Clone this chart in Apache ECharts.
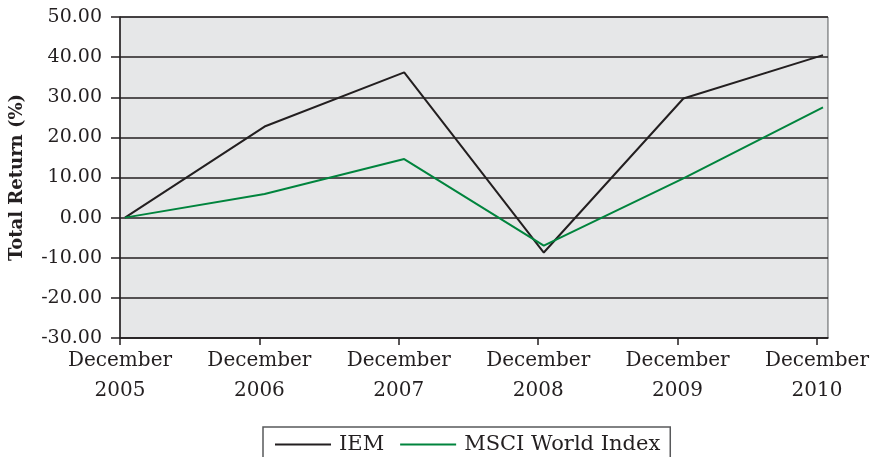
<!DOCTYPE html>
<html>
<head>
<meta charset="utf-8">
<script src="https://cdn.jsdelivr.net/npm/echarts@6/dist/echarts.min.js"></script>
<style>
html, body { margin: 0; padding: 0; background: #fff; }
#ct1 { width: 872px; height: 457px; }
</style>
</head>
<body>
<div id="ct1"></div>
<script>
var years = ['December\n2005', 'December\n2006', 'December\n2007', 'December\n2008', 'December\n2009', 'December\n2010'];
var iem = [0, 22.7, 36.2, -8.7, 29.7, 40.5];
var msci = [0, 5.9, 14.6, -7.0, 9.8, 27.5];
var yTicks = [-30, -20, -10, 0, 10, 20, 30, 40, 50];

var font = 'DejaVu Serif';

function pairs(arr) {
	var out = [];
	for (var i = 0; i < arr.length; i++) {
		out.push([i, arr[i]]);
	}
	return out;
}

var option1 = {
	animation: false,
	backgroundColor: '#fff',
	grid: {
		left: 120,
		right: 41,
		top: 17,
		bottom: 119,
		show: true,
		backgroundColor: '#e6e7e8',
		borderColor: '#58595b',
		borderWidth: 1
	},
	legend: {
		left: 263,
		top: 427,
		padding: [7, 10, 30, 12],
		borderColor: '#58595b',
		borderWidth: 1.5,
		itemWidth: 56,
		itemHeight: 10,
		itemGap: 16,
		icon: 'path://M0,4 L56,4 L56,6 L0,6 Z',
		textStyle: { fontFamily: font, fontSize: 21, color: '#231f20', padding: [0, 0, 0, 3] },
		data: ['IEM', 'MSCI World Index']
	},
	xAxis: [{
		type: 'value',
		min: 0,
		max: 5.079,
		interval: 1,
		splitLine: { show: false },
		axisLine: { onZero: false, lineStyle: { color: '#231f20', width: 1.5 } },
		axisTick: { length: 7, lineStyle: { color: '#231f20', width: 1.5 }, customValues: [0, 1, 2, 3, 4, 5] },
		axisLabel: {
			customValues: [0, 1, 2, 3, 4, 5],
			margin: 8,
			fontFamily: font,
			fontSize: 20,
			lineHeight: 30,
			color: '#231f20',
			formatter: function (v) {
				var i = Math.round(v);
				return Math.abs(v - i) < 1e-6 && years[i] !== undefined ? years[i] : '';
			}
		}
	}, {
		type: 'value',
		min: -0.0357,
		max: 5.0357,
		show: false,
		splitLine: { show: false }
	}],
	yAxis: {
		type: 'value',
		min: yTicks[0],
		max: yTicks[yTicks.length - 1],
		interval: 10,
		name: 'Total Return (%)',
		nameLocation: 'middle',
		nameGap: 94,
		nameTextStyle: { fontFamily: font, fontSize: 18, fontWeight: 'bold', color: '#231f20' },
		axisLine: { show: true, onZero: false, lineStyle: { color: '#231f20', width: 1.5 } },
		axisTick: { show: true, length: 9, lineStyle: { color: '#231f20', width: 1.5 } },
		axisLabel: {
			margin: 18,
			fontFamily: font,
			fontSize: 19,
			color: '#231f20',
			formatter: function (v) { return v.toFixed(2); }
		},
		splitLine: { lineStyle: { color: '#231f20', width: 1.5 } }
	},
	series: [{
		name: 'IEM',
		type: 'line',
		xAxisIndex: 1,
		symbol: 'none',
		color: '#231f20',
		lineStyle: { width: 2, color: '#231f20' },
		data: pairs(iem)
	}, {
		name: 'MSCI World Index',
		type: 'line',
		xAxisIndex: 1,
		symbol: 'none',
		color: '#00843d',
		lineStyle: { width: 2, color: '#00843d' },
		data: pairs(msci)
	}]
};

var myChart1 = echarts.init(document.getElementById('ct1'));
myChart1.setOption(option1, true);
</script>
</body>
</html>
